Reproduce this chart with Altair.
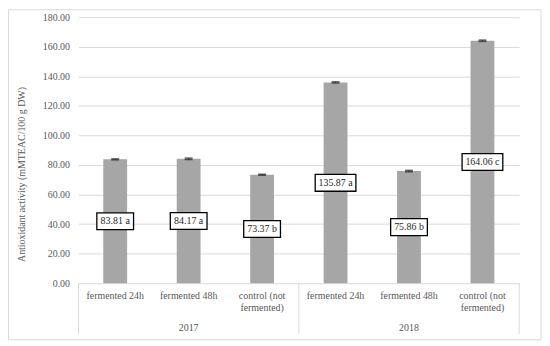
import altair as alt
import pandas as pd

years = ["2017", "2017", "2017", "2018", "2018", "2018"]
treatments = ["fermented 24h", "fermented 48h", "control (not\nfermented)",
              "fermented 24h", "fermented 48h", "control (not\nfermented)"]
values = [83.81, 84.17, 73.37, 135.87, 75.86, 164.06]
errors = [0.35, 0.5, 0.35, 0.4, 0.5, 0.45]
letters = ["a", "a", "b", "a", "b", "c"]
y_ticks = [0, 20, 40, 60, 80, 100, 120, 140, 160, 180]

keys = [f"{y}|{t}" for y, t in zip(years, treatments)]
labels = [f"{v:.2f} {l}" for v, l in zip(values, letters)]
df = pd.DataFrame({
    "key": keys, "year": years, "treat": treatments, "value": values,
    "err": errors, "label": labels,
    "lo": [v - e for v, e in zip(values, errors)],
    "hi": [v + e for v, e in zip(values, errors)],
    "mid": [v / 2 for v in values],
    "shape": ["M-1,-0.46H1V0.46H-1Z" if len(l) <= 7 else "M-1,-0.415H1V0.415H-1Z" for l in labels],
    "size": [37 ** 2 if len(l) <= 7 else 41 ** 2 for l in labels],
})

FONT = "Liberation Serif"
GRAY = "#595959"
W, H = 444, 268

xenc = alt.X("key:N", sort=keys, axis=None,
             scale=alt.Scale(paddingInner=0, paddingOuter=0))
yscale = alt.Scale(domain=[0, 180], nice=False)
YAX = alt.Axis(values=y_ticks, format=".2f", grid=True, gridColor="#d9d9d9",
               domain=False, ticks=False, labelPadding=9, labelOverlap=False,
               labelFont=FONT, labelFontSize=10, labelColor=GRAY,
               title="Antioxidant activity (mMTEAC/100 g DW)",
               titleFont=FONT, titleFontSize=10, titleFontWeight="normal",
               titleColor=GRAY, titleX=-57, titleY=158, titleBaseline="middle",
               titleAlign="center", titleAngle=270)


def yq(field):
    return alt.Y(field, scale=yscale, axis=YAX)


base = alt.Chart(df)

bars = base.mark_bar(width=24, color="#a6a6a6").encode(x=xenc, y=yq("value:Q"))

err_rule = base.mark_rule(color="#262626", strokeWidth=1).encode(
    x=xenc, y=yq("lo:Q"), y2="hi:Q")
caps = base.transform_fold(["lo", "hi"], as_=["k", "v"]).mark_tick(
    color="#262626", thickness=1.5, size=8).encode(
    x=xenc, y=yq("v:Q"))

boxes = base.mark_point(filled=False, fill="white", fillOpacity=1, stroke="black",
                        strokeWidth=1.3, opacity=1).encode(
    x=xenc, y=yq("mid:Q"),
    shape=alt.Shape("shape:N", scale=None),
    size=alt.Size("size:Q", scale=None),
)
box_text = base.mark_text(font=FONT, fontSize=10, color="#262626").encode(
    x=xenc, y=yq("mid:Q"), text="label:N")

cat_text = base.mark_text(font=FONT, fontSize=10, color=GRAY, lineBreak="\n",
                          baseline="top", lineHeight=12).encode(
    x=xenc, y=alt.value(H + 8), text="treat:N")

year_text = base.transform_filter(alt.datum.treat == "fermented 48h").mark_text(
    font=FONT, fontSize=10, color=GRAY).encode(
    x=xenc, y=alt.value(H + 45), text="year:N")

sep_start = base.transform_filter(alt.datum.treat == "fermented 24h").mark_rule(
    color="#d9d9d9", strokeWidth=1).encode(
    x=alt.X("key:N", sort=keys, axis=None, bandPosition=0),
    y=alt.value(H), y2=alt.value(H + 51))
sep_end = base.transform_filter(alt.datum.key == keys[-1]).mark_rule(
    color="#d9d9d9", strokeWidth=1).encode(
    x=alt.X("key:N", sort=keys, axis=None, bandPosition=1),
    y=alt.value(H), y2=alt.value(H + 51))

border = base.transform_filter(alt.datum.key == keys[0]).mark_rect(
    fillOpacity=0, stroke="#d9d9d9", strokeWidth=1).encode(
    x=alt.value(-70.5), x2=alt.value(466), y=alt.value(-7.5), y2=alt.value(325))

chart = alt.layer(
    bars, border, err_rule, caps, sep_start, sep_end, cat_text, year_text, boxes, box_text
).properties(
    width=W, height=H,
    autosize=alt.AutoSizeParams(type="none"),
    padding={"left": 71, "top": 8, "right": 23, "bottom": 58},
).configure_view(stroke=None).configure_axis(
    labelFont=FONT, titleFont=FONT
)

chart.save("out.html", embed_options={"renderer": "svg", "actions": False})
